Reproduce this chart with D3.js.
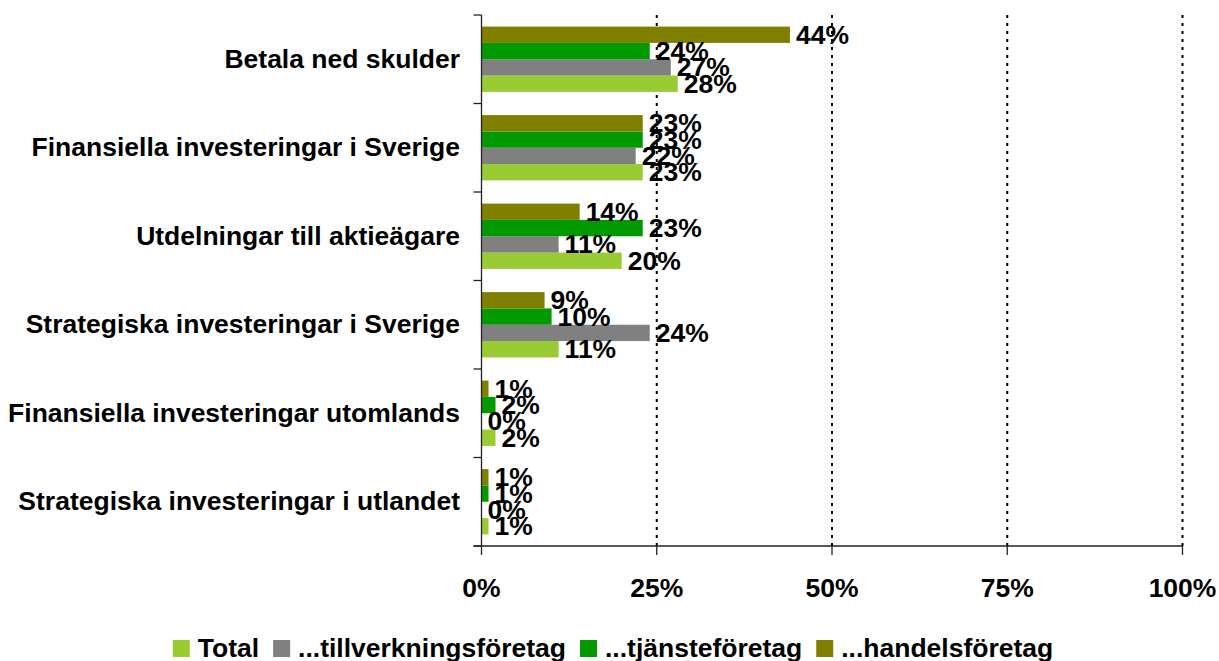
<!DOCTYPE html>
<html>
<head>
<meta charset="utf-8">
<script src="https://cdn.jsdelivr.net/npm/d3@7"></script>
<style>
html,body{margin:0;padding:0;background:#fff;}
text{font-family:"Liberation Sans",Arial,sans-serif;font-weight:bold;fill:#000;}
</style>
</head>
<body>
<svg id="chart" width="1219" height="661"></svg>
<script>
const categories = [
  "Betala ned skulder",
  "Finansiella investeringar i Sverige",
  "Utdelningar till aktieägare",
  "Strategiska investeringar i Sverige",
  "Finansiella investeringar utomlands",
  "Strategiska investeringar i utlandet"
];
const seriesNames = ["Total", "...tillverkningsföretag", "...tjänsteföretag", "...handelsföretag"];
const totalValues = [28, 23, 20, 11, 2, 1];
const tillverkningValues = [27, 22, 11, 24, 0, 0];
const tjansteValues = [24, 23, 23, 10, 2, 1];
const handelsValues = [44, 23, 14, 9, 1, 1];
const xTicks = [0, 25, 50, 75, 100];
const seriesColors = ["#99CC33", "#808080", "#009900", "#808000"];

const series = [
  {name: seriesNames[0], values: totalValues, color: seriesColors[0]},
  {name: seriesNames[1], values: tillverkningValues, color: seriesColors[1]},
  {name: seriesNames[2], values: tjansteValues, color: seriesColors[2]},
  {name: seriesNames[3], values: handelsValues, color: seriesColors[3]}
];
// drawing order top-to-bottom within a group
const stackOrder = [3, 2, 1, 0];

const FS = 25, SX = 1.06;
const svg = d3.select("#chart");
const pLeft = 481.5, pRight = 1182.5, pTop = 15, pBottom = 546;

const x = d3.scaleLinear().domain([0, 100]).range([pLeft, pRight]);
const y = d3.scaleBand().domain(categories).range([pTop, pBottom]).padding(0);
const bw = y.bandwidth();
const inner = d3.scaleBand().domain(stackOrder).range([0, bw * 0.738]);
const off = (bw - bw * 0.738) / 2;

function stxt(sel, tx, ty, str, anchor) {
  return sel.append("text")
    .attr("transform", `translate(${tx},${ty}) scale(${SX},1)`)
    .attr("text-anchor", anchor || "start")
    .attr("font-size", FS)
    .text(str);
}

// gridlines
svg.append("g").selectAll("line").data(xTicks.filter(d => d > 0)).join("line")
  .attr("x1", d => x(d)).attr("x2", d => x(d))
  .attr("y1", pTop).attr("y2", pBottom)
  .attr("stroke", "#000").attr("stroke-width", 2).attr("stroke-dasharray", "3,5");

// bars
const gBars = svg.append("g");
series.forEach((s, si) => {
  gBars.selectAll(null).data(categories).join("rect")
    .attr("x", x(0))
    .attr("y", c => y(c) + off + inner(si))
    .attr("width", (c, i) => x(s.values[i]) - x(0))
    .attr("height", inner.bandwidth())
    .attr("fill", s.color);
});

// axes
const axisColor = "#222";
svg.append("line").attr("x1", pLeft).attr("x2", pLeft).attr("y1", pTop).attr("y2", pBottom)
  .attr("stroke", axisColor).attr("stroke-width", 1.3);
svg.append("g").selectAll("line").data(d3.range(categories.length + 1)).join("line")
  .attr("x1", pLeft - 8).attr("x2", pLeft)
  .attr("y1", i => pTop + i * bw).attr("y2", i => pTop + i * bw)
  .attr("stroke", axisColor).attr("stroke-width", 1.3);
svg.append("line").attr("x1", pLeft - 8).attr("x2", pRight).attr("y1", pBottom).attr("y2", pBottom)
  .attr("stroke", axisColor).attr("stroke-width", 1.3);
svg.append("g").selectAll("line").data(xTicks).join("line")
  .attr("x1", d => x(d)).attr("x2", d => x(d))
  .attr("y1", pBottom).attr("y2", pBottom + 9)
  .attr("stroke", axisColor).attr("stroke-width", 1.3);

// x tick labels
const gx = svg.append("g");
xTicks.forEach(t => stxt(gx, x(t), 596.5, t + "%", "middle"));

// category labels
const gy = svg.append("g");
categories.forEach(c => stxt(gy, 460, y(c) + bw / 2 + 8.5, c, "end"));

// data labels
const gl = svg.append("g");
series.forEach((s, si) => {
  categories.forEach((c, i) => {
    const cy = y(c) + off + inner(si) + inner.bandwidth() / 2;
    stxt(gl, x(s.values[i]) + 6, cy + 9, s.values[i] + "%", "start");
  });
});

// legend
const gLeg = svg.append("g");
const sq = 17, gapSq = 8, gapItem = 14;
let cx = 0;
series.forEach(s => {
  const g = gLeg.append("g");
  g.append("rect").attr("x", cx).attr("y", 640).attr("width", sq).attr("height", sq).attr("fill", s.color);
  const t = stxt(g, cx + sq + gapSq, 656.5, s.name, "start");
  const w = t.node().getComputedTextLength() * SX;
  cx += sq + gapSq + w + gapItem;
});
const legW = cx - gapItem;
gLeg.attr("transform", `translate(${613 - legW / 2},0)`);
</script>
</body>
</html>
